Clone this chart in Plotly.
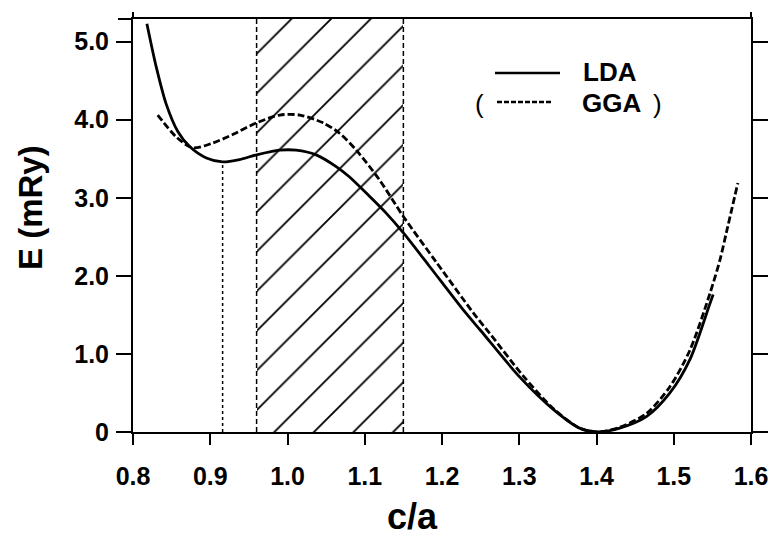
import plotly.graph_objects as go

# ---- data ----
lda_x = [0.818, 0.830, 0.843, 0.858, 0.873, 0.895, 0.916, 0.938, 0.960, 0.990,
         1.011, 1.037, 1.063, 1.080, 1.106, 1.128, 1.150, 1.184, 1.227, 1.250,
         1.301, 1.344, 1.378, 1.400, 1.430, 1.465, 1.495, 1.521, 1.547, 1.551]
lda_e = [5.23, 4.68, 4.20, 3.85, 3.66, 3.51, 3.46, 3.49, 3.55, 3.61,
         3.61, 3.55, 3.40, 3.27, 3.02, 2.80, 2.55, 2.12, 1.57, 1.30,
         0.70, 0.29, 0.05, 0.0, 0.05, 0.20, 0.50, 0.93, 1.65, 1.76]

gga_x = [0.832, 0.856, 0.877, 0.903, 0.929, 0.960, 0.990, 1.016, 1.046, 1.067,
         1.089, 1.119, 1.150, 1.193, 1.241, 1.262, 1.305, 1.344, 1.378, 1.400,
         1.430, 1.465, 1.495, 1.521, 1.547, 1.560, 1.568, 1.583]
gga_e = [4.06, 3.78, 3.64, 3.70, 3.81, 3.96, 4.06, 4.06, 3.96, 3.83,
         3.61, 3.23, 2.76, 2.17, 1.52, 1.26, 0.72, 0.30, 0.05, 0.0,
         0.06, 0.24, 0.58, 1.05, 1.78, 2.21, 2.55, 3.19]

hatch_range = [0.96, 1.15]          # shaded c/a window
lda_local_min = [0.916, 3.46]       # dotted marker (c/a, E)

x_ticks = [0.8, 0.9, 1.0, 1.1, 1.2, 1.3, 1.4, 1.5, 1.6]
x_ticktext = ["0.8", "0.9", "1.0", "1.1", "1.2", "1.3", "1.4", "1.5", "1.6"]
y_ticks = [0, 1, 2, 3, 4, 5]
y_ticktext = ["0", "1.0", "2.0", "3.0", "4.0", "5.0"]
x_range = [0.8, 1.6]
y_range = [0, 5.29]
x_title = "c/a"
y_title = "E (mRy)"
series_names = ["LDA", "GGA"]

FONT = "Liberation Sans, Arial, Helvetica, sans-serif"

fig = go.Figure()

# hatched region
fig.add_trace(go.Bar(
    x=[(hatch_range[0] + hatch_range[1]) / 2], y=[y_range[1]], base=0,
    width=[hatch_range[1] - hatch_range[0]],
    marker=dict(color="rgba(0,0,0,0)", line=dict(width=0),
                pattern=dict(shape="/", size=28, solidity=0.065,
                             fgcolor="black", fgopacity=1,
                             bgcolor="rgba(0,0,0,0)")),
    showlegend=False, hoverinfo="skip"))

# dashed boundaries of hatched region
for xb in hatch_range:
    fig.add_trace(go.Scatter(x=[xb, xb], y=y_range, mode="lines",
                             line=dict(color="black", width=1.5, dash="5px,3px"),
                             showlegend=False, hoverinfo="skip"))

# dotted line at LDA local minimum
fig.add_trace(go.Scatter(x=[lda_local_min[0], lda_local_min[0]], y=[0, lda_local_min[1]],
                         mode="lines", line=dict(color="black", width=1.5, dash="dot"),
                         showlegend=False, hoverinfo="skip"))

fig.add_trace(go.Scatter(x=gga_x, y=gga_e, mode="lines", name=series_names[1],
                         line=dict(color="black", width=2.8, dash="7px,3px",
                                   shape="spline", smoothing=0.8),
                         showlegend=False))
fig.add_trace(go.Scatter(x=lda_x, y=lda_e, mode="lines", name=series_names[0],
                         line=dict(color="black", width=2.8,
                                   shape="spline", smoothing=0.8),
                         showlegend=False))

L, R, T, B = 133, 25, 19, 106
W, H = 776, 538
pw, ph = W - L - R, H - T - B

def px(xp):
    return (xp - L) / pw

def py(yp):
    return (H - B - yp) / ph

shapes = [
    # extension of top frame line to the left
    dict(type="line", xref="paper", yref="paper", x0=px(118), x1=0, y0=1, y1=1,
         line=dict(color="black", width=2)),
    # spines poking above the top line
    dict(type="line", xref="paper", yref="paper", x0=0, x1=0, y0=1, y1=py(12),
         line=dict(color="black", width=2)),
    dict(type="line", xref="paper", yref="paper", x0=1, x1=1, y0=1, y1=py(12),
         line=dict(color="black", width=2)),
    # legend samples
    dict(type="line", xref="paper", yref="paper", x0=px(495), x1=px(560),
         y0=py(73), y1=py(73), line=dict(color="black", width=2.5)),
    dict(type="line", xref="paper", yref="paper", x0=px(497), x1=px(552),
         y0=py(102), y1=py(102), line=dict(color="black", width=2.5, dash="5px,2px")),
]

annotations = [
    dict(text=series_names[0], xref="paper", yref="paper", x=px(581), y=py(72),
         xanchor="left", yanchor="middle", showarrow=False,
         font=dict(family=FONT, size=26, color="black", weight="bold")),
    dict(text=series_names[1], xref="paper", yref="paper", x=px(580), y=py(103),
         xanchor="left", yanchor="middle", showarrow=False,
         font=dict(family=FONT, size=26, color="black", weight="bold")),
    dict(text="(", xref="paper", yref="paper", x=px(479), y=py(104),
         xanchor="center", yanchor="middle", showarrow=False,
         font=dict(family=FONT, size=26, color="black")),
    dict(text=")", xref="paper", yref="paper", x=px(657), y=py(104),
         xanchor="center", yanchor="middle", showarrow=False,
         font=dict(family=FONT, size=26, color="black")),
    # axis titles
    dict(text=x_title, xref="paper", yref="paper", x=px(412), y=py(516),
         xanchor="center", yanchor="middle", showarrow=False,
         font=dict(family=FONT, size=36, color="black", weight="bold")),
    dict(text=y_title, xref="paper", yref="paper", x=px(30), y=py(208),
         xanchor="center", yanchor="middle", showarrow=False, textangle=-90,
         font=dict(family=FONT, size=33, color="black", weight="bold")),
]

fig.update_layout(
    width=W, height=H,
    margin=dict(l=L, r=R, t=T, b=B, autoexpand=False),
    paper_bgcolor="white", plot_bgcolor="white",
    showlegend=False, bargap=0,
    shapes=shapes, annotations=annotations,
    font=dict(family=FONT, color="black"),
)
fig.update_xaxes(
    range=x_range, tickvals=x_ticks, ticktext=x_ticktext,
    showgrid=False, zeroline=False,
    showline=True, linecolor="black", linewidth=2, mirror=True,
    ticks="outside", ticklen=11, tickwidth=2, tickcolor="black",
    ticklabelstandoff=10,
    tickfont=dict(family=FONT, size=25, color="black", weight="bold"),
)
fig.update_yaxes(
    range=y_range, tickvals=y_ticks, ticktext=y_ticktext,
    showgrid=False, zeroline=False,
    showline=True, linecolor="black", linewidth=2, mirror="ticks",
    ticks="outside", ticklen=15, tickwidth=2, tickcolor="black",
    ticklabelstandoff=2,
    tickfont=dict(family=FONT, size=25, color="black", weight="bold"),
)

fig.write_html("out.html")
